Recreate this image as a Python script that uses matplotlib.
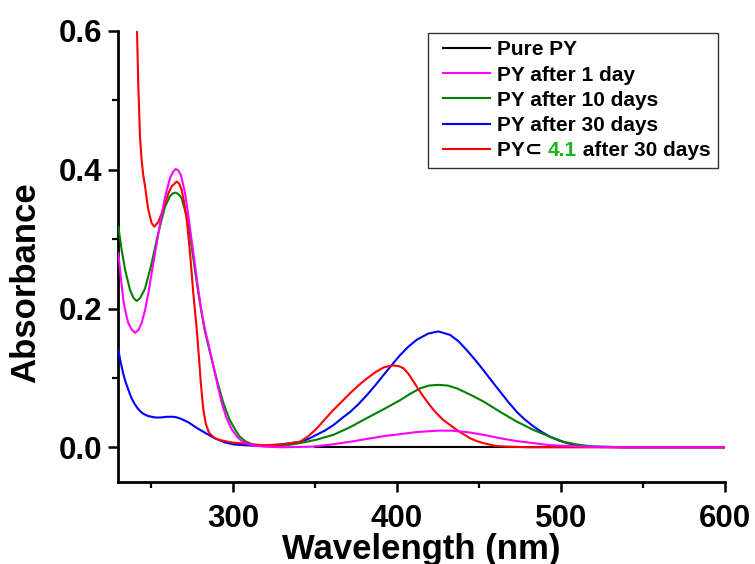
import numpy as np
import matplotlib
matplotlib.use("Agg")
import matplotlib.pyplot as plt
from matplotlib.ticker import MultipleLocator, FormatStrFormatter
from matplotlib.offsetbox import HPacker, TextArea
from matplotlib.legend_handler import HandlerLine2D

plt.rcParams['font.family'] = ['Liberation Sans', 'DejaVu Sans']
plt.rcParams['font.weight'] = 'bold'

# ---- absorption spectra (wavelength in nm, absorbance) ----
pure_wl = [350, 400, 450, 500, 550, 600]
pure_abs = [0.0, 0.0, 0.0, 0.0, 0.0, 0.0]

day1_wl = [230.2, 231.7, 233.25, 234.8, 236.3, 238.3, 240.4, 242.4, 244.4, 246.5, 248.5, 251,
           253.6, 256.2, 258.7, 261.7, 263.5, 265.2, 266.8, 268.4, 270.9, 273, 274.9, 277,
           279, 281, 283, 285, 287.1, 290, 293.2, 296, 299.3, 303, 306.4, 312,
           318.6, 330, 349, 360, 371.5, 381.6, 391.8, 402, 412.1, 425.3, 433, 442.6,
           452.8, 463, 473, 483.3, 493.5, 503.7, 515, 530, 600]
day1_abs = [0.280, 0.245, 0.212, 0.193, 0.179, 0.170, 0.165, 0.169, 0.179, 0.198, 0.222, 0.258,
            0.294, 0.330, 0.361, 0.388, 0.397, 0.401, 0.399, 0.392, 0.366, 0.332, 0.298, 0.262,
            0.226, 0.195, 0.170, 0.150, 0.128, 0.097, 0.064, 0.043, 0.026, 0.014, 0.007, 0.003,
            0.001, 0.000, 0.001, 0.004, 0.008, 0.012, 0.016, 0.019, 0.022, 0.024, 0.024, 0.022,
            0.018, 0.013, 0.009, 0.006, 0.003, 0.002, 0.001, 0.000, 0.000]

day10_wl = [230.2, 232.2, 234.3, 237.3, 239.5, 241.4, 243.5, 246.5, 250.5, 253.6, 256, 258.7,
            261.7, 263.5, 265.2, 266.8, 268.8, 271.9, 274.9, 277, 279, 281, 283, 285,
            287.1, 290.5, 294.2, 298, 301.3, 304, 307.4, 312, 318.6, 330, 341, 351,
            361.3, 371.5, 381.6, 392, 402, 408, 414.2, 419.5, 425.3, 431, 436.5, 444.6,
            452.8, 463, 473.1, 483.3, 493.5, 501.6, 509.8, 520, 540, 600]
day10_abs = [0.318, 0.285, 0.256, 0.227, 0.215, 0.211, 0.215, 0.229, 0.265, 0.299, 0.323, 0.347,
             0.362, 0.366, 0.367, 0.365, 0.359, 0.332, 0.289, 0.254, 0.222, 0.193, 0.167, 0.147,
             0.127, 0.095, 0.064, 0.040, 0.026, 0.016, 0.009, 0.004, 0.002, 0.002, 0.006, 0.011,
             0.018, 0.029, 0.042, 0.055, 0.068, 0.077, 0.085, 0.089, 0.090, 0.089, 0.085, 0.076,
             0.066, 0.051, 0.037, 0.025, 0.015, 0.008, 0.004, 0.001, 0.000, 0.000]

day30_wl = [230.2, 231.5, 233, 234.5, 236.3, 238, 240, 242, 244.4, 246.5, 248.5, 252.6,
            256, 260, 263.7, 266, 268.5, 272.9, 278, 283, 289, 295.2, 301, 307.4,
            315, 328.8, 341, 346, 351, 356, 361.3, 366, 371.5, 376.5, 381.6, 386.7,
            391.8, 397, 402, 407, 412.1, 419.2, 425.3, 432.4, 437.5, 442.6, 447.7, 452.8,
            458, 463, 468, 473.1, 478, 483.3, 488.4, 493.5, 498.6, 503.7, 508, 512,
            520, 540, 600]
day30_abs = [0.141, 0.124, 0.108, 0.095, 0.083, 0.072, 0.063, 0.056, 0.050, 0.047, 0.045, 0.043,
             0.043, 0.044, 0.044, 0.043, 0.041, 0.036, 0.028, 0.021, 0.013, 0.007, 0.004, 0.003,
             0.002, 0.004, 0.008, 0.012, 0.018, 0.024, 0.032, 0.041, 0.051, 0.062, 0.075, 0.089,
             0.104, 0.119, 0.133, 0.145, 0.155, 0.164, 0.167, 0.162, 0.153, 0.140, 0.126, 0.111,
             0.095, 0.080, 0.065, 0.051, 0.040, 0.030, 0.022, 0.015, 0.010, 0.006, 0.004, 0.002,
             0.001, 0.000, 0.000]

host_wl = [240, 241.6, 242.4, 243.4, 244.4, 245.4, 246.5, 247.5, 248.5, 250.5, 252.2, 254.6,
           256.6, 258.7, 260.7, 262.7, 265.8, 267.3, 268.8, 270.4, 271.9, 273.9, 275.9, 278,
           279.5, 280.5, 282, 283.5, 285.5, 289, 293, 299.3, 308, 318.6, 330, 341,
           346, 351.1, 356, 361.3, 366.5, 371.5, 376.5, 381.6, 386.7, 391.8, 395, 397.9,
           401, 404, 407, 410.1, 413, 416.2, 419.3, 422.3, 425.4, 428.4, 432.5, 436.5,
           440.6, 444.6, 448.7, 452.8, 460, 467, 480, 600]
host_abs = [0.680, 0.599, 0.520, 0.448, 0.414, 0.392, 0.376, 0.358, 0.342, 0.323, 0.318, 0.325,
            0.337, 0.352, 0.366, 0.376, 0.383, 0.380, 0.371, 0.352, 0.328, 0.280, 0.222, 0.170,
            0.125, 0.092, 0.055, 0.034, 0.021, 0.013, 0.010, 0.007, 0.005, 0.003, 0.004, 0.008,
            0.016, 0.027, 0.040, 0.054, 0.066, 0.078, 0.089, 0.099, 0.108, 0.115, 0.117, 0.118,
            0.117, 0.114, 0.106, 0.095, 0.084, 0.073, 0.063, 0.054, 0.046, 0.039, 0.032, 0.025,
            0.019, 0.013, 0.009, 0.006, 0.002, 0.001, 0.000, 0.000]

labels = ["Pure PY", "PY after 1 day", "PY after 10 days", "PY after 30 days",
          "PY\u2282 4.1 after 30 days"]
colors = ["black", "#FF00FF", "#008000", "#0000FF", "#FF0000"]
host_label_color = "#1DB31D"

fig = plt.figure(figsize=(7.55, 5.64), dpi=100)
ax = fig.add_axes([118 / 755, 1 - 482 / 564, 607 / 755, 451 / 564])

lw = 1.5
h_pure, = ax.plot(pure_wl, pure_abs, color=colors[0], lw=lw, zorder=2)
h_30, = ax.plot(day30_wl, day30_abs, color=colors[3], lw=lw, zorder=3)
h_10, = ax.plot(day10_wl, day10_abs, color=colors[2], lw=lw, zorder=4)
h_host, = ax.plot(host_wl, host_abs, color=colors[4], lw=lw, zorder=5)
h_1, = ax.plot(day1_wl, day1_abs, color=colors[1], lw=lw, zorder=6)

ax.set_xlim(230, 600)
ax.set_ylim(-0.05, 0.6)

for side in ("top", "right"):
    ax.spines[side].set_visible(False)
for side in ("left", "bottom"):
    ax.spines[side].set_linewidth(2.0)

ax.xaxis.set_major_locator(MultipleLocator(100))
ax.xaxis.set_minor_locator(MultipleLocator(50))
ax.yaxis.set_major_locator(MultipleLocator(0.2))
ax.yaxis.set_minor_locator(MultipleLocator(0.1))
ax.yaxis.set_major_formatter(FormatStrFormatter("%.1f"))
ax.tick_params(which="major", direction="out", length=7, width=1.8, labelsize=22.5)
ax.tick_params(axis="y", which="major", pad=4)
ax.tick_params(axis="x", which="major", pad=9)
ax.tick_params(which="minor", direction="out", length=4.5, width=1.6)
for t in ax.get_xticklabels() + ax.get_yticklabels():
    t.set_fontweight("bold")

ax.set_xlabel("Wavelength (nm)", fontsize=25, fontweight="bold")
ax.set_ylabel("Absorbance", fontsize=25, fontweight="bold")
ax.xaxis.set_label_coords(0.5, -0.113)
ax.yaxis.set_label_coords(-0.125, 0.443)


class InsetLine(HandlerLine2D):
    """Legend line that starts a little to the right of the handle box."""

    def __init__(self, inset, **kw):
        super().__init__(**kw)
        self.inset = inset

    def create_artists(self, legend, orig_handle, xdescent, ydescent,
                       width, height, fontsize, trans):
        arts = super().create_artists(legend, orig_handle, xdescent, ydescent,
                                      width, height, fontsize, trans)
        for a in arts:
            x = np.asarray(a.get_xdata(), float)
            if x.size >= 2:
                x[0] = x[0] + self.inset
                a.set_xdata(x)
        return arts


leg_fs = 15
handler = InsetLine(5.5)
leg = ax.legend([h_pure, h_1, h_10, h_30, h_host], labels,
                loc="upper right", bbox_to_anchor=(0.9885, 0.9956),
                borderaxespad=0, prop={"weight": "bold", "size": leg_fs},
                frameon=True, fancybox=False, edgecolor="#333333", framealpha=1,
                handlelength=2.62, handletextpad=0.34, labelspacing=0.3,
                borderpad=0.35,
                handler_map={h: handler for h in (h_pure, h_1, h_10, h_30, h_host)})
leg.get_frame().set_linewidth(1.0)

# last entry: label with the host number in green
last_row = leg._legend_handle_box.get_children()[0].get_children()[-1]
tp = dict(fontsize=leg_fs, fontweight="bold", color="black",
          family=["Liberation Sans", "DejaVu Sans"])
parts = HPacker(pad=0, sep=0, align="baseline", children=[
    TextArea("PY\u2282 ", textprops=tp),
    TextArea("4.1", textprops=dict(tp, color=host_label_color)),
    TextArea(" after 30 days", textprops=tp),
])
parts.set_figure(fig)
last_row.get_children()[1] = parts

fig.savefig("out.png", dpi=100)
